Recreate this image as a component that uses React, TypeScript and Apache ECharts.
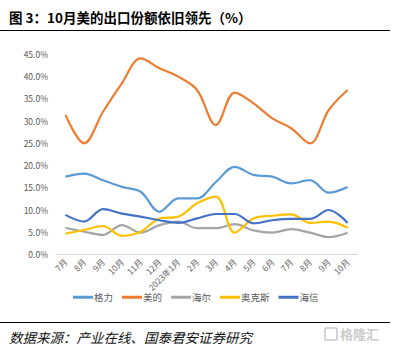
import React, { useEffect, useRef } from "react";
import * as echarts from "echarts";

const categories = ["7月", "8月", "9月", "10月", "11月", "12月", "2023年1月", "2月", "3月", "4月", "5月", "6月", "7月", "8月", "9月", "10月"];
const gree = [17.4, 18.1, 16.6, 15.1, 14.0, 9.5, 12.5, 12.5, 16.2, 19.6, 17.8, 17.4, 15.9, 16.6, 13.8, 15.1];
const midea = [31.3, 24.9, 32.0, 38.4, 44.0, 41.8, 39.9, 36.9, 29.0, 36.3, 33.9, 30.5, 28.3, 24.9, 32.4, 36.9];
const haier = [5.9, 5.0, 4.3, 6.5, 4.8, 6.5, 7.3, 5.8, 5.8, 6.7, 5.3, 4.8, 5.6, 4.8, 3.8, 4.8];
const aux = [4.6, 5.4, 6.3, 4.1, 5.0, 8.0, 8.4, 11.4, 12.9, 4.8, 8.0, 8.6, 8.9, 7.0, 7.3, 5.9];
const hisense = [8.8, 7.3, 10.1, 9.1, 8.4, 7.6, 7.0, 8.0, 9.0, 9.0, 6.9, 7.6, 7.9, 7.9, 9.9, 7.0];
const seriesNames = ["格力", "美的", "海尔", "奥克斯", "海信"];
const colors = ["#5B9BD5", "#ED7D31", "#A5A5A5", "#FFC000", "#4472C4"];
const yTicks = { min: 0, max: 45, interval: 5 };

const FONT = "'Noto Sans CJK SC', 'Noto Sans', sans-serif";

export default function App() {
  const ref = useRef<HTMLDivElement>(null);
  useEffect(() => {
    if (!ref.current) return;
    const chart = echarts.init(ref.current, undefined, { renderer: "svg" });
    const data = [gree, midea, haier, aux, hisense];
    chart.setOption({
      animation: false,
      backgroundColor: "#ffffff",
      textStyle: { fontFamily: FONT },
      title: [
        {
          text: "图 3：10月美的出口份额依旧领先（%）",
          left: 4,
          top: 5,
          textStyle: { fontSize: 13.5, fontWeight: "bold", color: "#000", fontFamily: FONT },
        },
        {
          text: "数据来源：产业在线、国泰君安证券研究",
          left: 4,
          top: 325,
          textStyle: { fontSize: 13.5, fontWeight: "normal", fontStyle: "italic", color: "#111", fontFamily: FONT },
        },
      ],
      graphic: [
        { type: "line", shape: { x1: 0, y1: 30.5, x2: 390, y2: 30.5 }, style: { stroke: "#000", lineWidth: 1.2 } },
        { type: "line", shape: { x1: 0, y1: 322.5, x2: 390, y2: 322.5 }, style: { stroke: "#000", lineWidth: 1.2 } },
        { type: "rect", shape: { x: 325, y: 328, width: 12, height: 12, r: 1 }, style: { fill: "none", stroke: "#c8c8c8", lineWidth: 1.5 } },
        { type: "text", x: 340, y: 327, style: { text: "格隆汇", fontSize: 13, fill: "#cccccc", fontFamily: FONT, fontWeight: "bold" } },
      ],
      legend: {
        data: seriesNames,
        bottom: 45,
        left: 68,
        itemWidth: 20,
        itemHeight: 3,
        itemGap: 9,
        icon: "rect",
        textStyle: { fontSize: 9.5, color: "#595959", fontFamily: FONT, padding: [0, 0, 0, -4] },
      },
      grid: { left: 56, right: 40, top: 54, bottom: 98 },
      xAxis: {
        type: "category",
        data: categories,
        boundaryGap: true,
        axisLine: { lineStyle: { color: "#d9d9d9" } },
        axisTick: { show: false },
        axisLabel: { rotate: 45, fontSize: 8.5, color: "#666666", interval: 0, margin: 6, fontFamily: FONT },
      },
      yAxis: {
        type: "value",
        min: yTicks.min,
        max: yTicks.max,
        interval: yTicks.interval,
        axisLine: { show: false },
        axisTick: { show: false },
        splitLine: { show: false },
        axisLabel: {
          fontSize: 8.5,
          color: "#595959",
          margin: 8,
          formatter: (v: number) => v.toFixed(1) + "%",
          fontFamily: FONT,
        },
      },
      series: seriesNames.map((name, i) => ({
        name,
        type: "line",
        data: data[i],
        smooth: 0.35,
        showSymbol: false,
        symbol: "none",
        lineStyle: { width: 2.2, color: colors[i] },
        itemStyle: { color: colors[i] },
      })),
    });
    return () => chart.dispose();
  }, []);
  return <div ref={ref} style={{ position: "absolute", left: 0, top: 0, width: 397, height: 352 }} />;
}
